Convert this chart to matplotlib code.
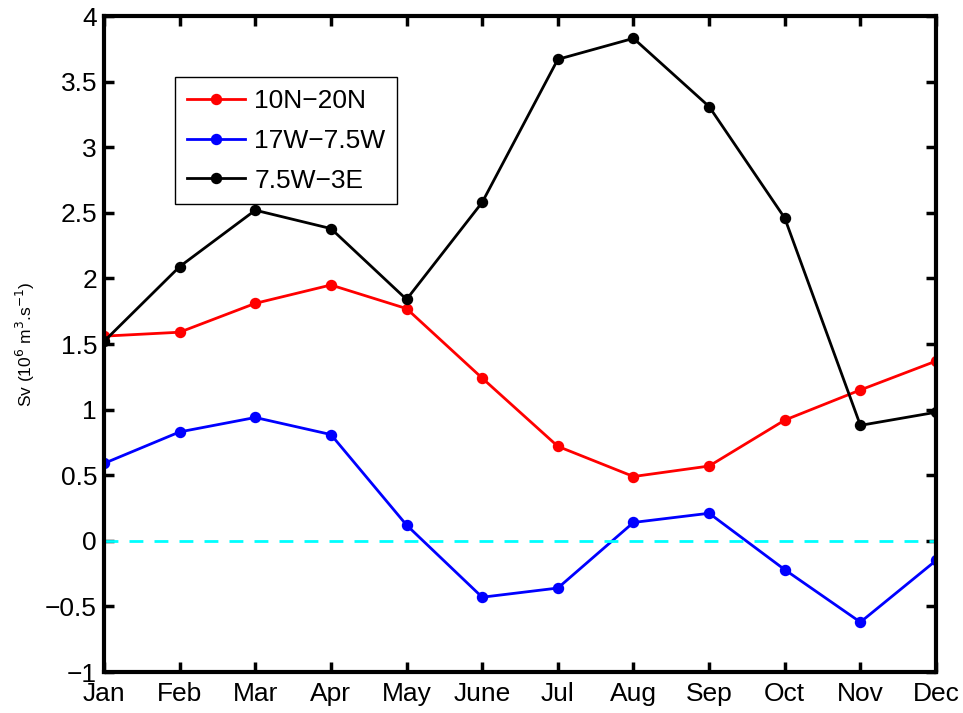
import numpy as np
import matplotlib.pyplot as plt

plt.rcParams['font.family'] = ['Liberation Sans', 'DejaVu Sans']

months = ['Jan', 'Feb', 'Mar', 'Apr', 'May', 'June', 'Jul', 'Aug', 'Sep', 'Oct', 'Nov', 'Dec']
lat_10n_20n = [1.56, 1.59, 1.81, 1.95, 1.77, 1.24, 0.72, 0.49, 0.57, 0.92, 1.15, 1.37]
lon_17w_75w = [0.59, 0.83, 0.94, 0.81, 0.12, -0.43, -0.36, 0.14, 0.21, -0.22, -0.62, -0.15]
lon_75w_3e = [1.52, 2.09, 2.52, 2.38, 1.84, 2.58, 3.67, 3.83, 3.31, 2.46, 0.88, 0.98]

x = np.arange(1, len(months) + 1)

fig = plt.figure(figsize=(9.63, 7.13), dpi=100)
ax = fig.add_axes([0.108, 0.0575, 0.864, 0.92])

ax.plot(x, lat_10n_20n, '-o', color='red', lw=2, ms=7.2, label='10N\u221220N')
ax.plot(x, lon_17w_75w, '-o', color='blue', lw=2, ms=7.2, label='17W\u22127.5W')
ax.plot(x, lon_75w_3e, '-o', color='black', lw=2, ms=7.2, label='7.5W\u22123E')
ax.plot(x, np.zeros(len(x)), '--', color='cyan', lw=2, dashes=(5, 4))

ax.set_xlim(1, 12)
ax.set_ylim(-1, 4)
ax.set_xticks(x)
ax.set_xticklabels(months)
ax.set_yticks(np.arange(-1, 4.01, 0.5))
ax.set_yticklabels(['\u22121', '\u22120.5', '0', '0.5', '1', '1.5', '2', '2.5', '3', '3.5', '4'])
ax.tick_params(direction='in', length=7, width=2.5, labelsize=19, top=True, right=True)
ax.tick_params(axis='x', pad=7)
ax.tick_params(axis='y', pad=5)
for s in ax.spines.values():
    s.set_linewidth(3)

ax.set_ylabel('Sv (10$^6$ m$^3$.s$^{-1}$)', fontsize=12.5, labelpad=6)

leg = ax.legend(loc='upper left', bbox_to_anchor=(0.0853, 0.907), fontsize=19,
                fancybox=False, framealpha=1, edgecolor='black', borderaxespad=0,
                handlelength=2.2, handletextpad=0.35, borderpad=0.45, labelspacing=0.6)
leg.get_frame().set_linewidth(1)

plt.savefig('out.png', dpi=100)
